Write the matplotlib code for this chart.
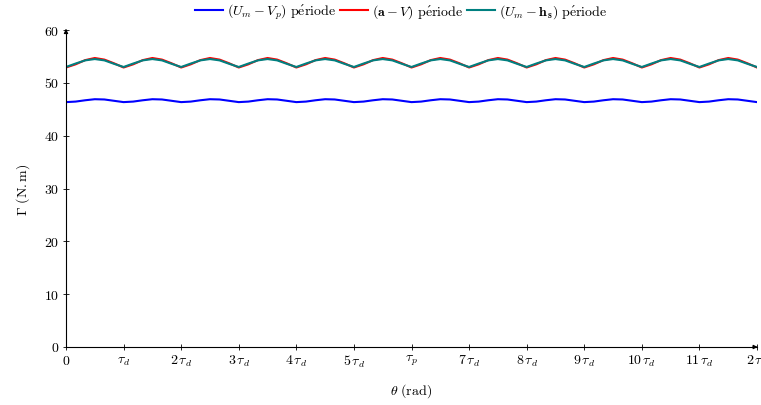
import numpy as np
import matplotlib
matplotlib.use("Agg")
import matplotlib.pyplot as plt

plt.rcParams['mathtext.fontset'] = 'cm'
plt.rcParams['font.family'] = ['DejaVu Serif']

# sample positions, in units of tau_d (0 .. 12 tau_d = 2 tau_p), step tau_d/6
theta = np.linspace(0, 12, 73)

blue = [46.35, 46.45, 46.7, 46.9, 46.85, 46.6,
        46.35, 46.45, 46.7, 46.9, 46.85, 46.6,
        46.35, 46.45, 46.7, 46.9, 46.85, 46.6,
        46.35, 46.45, 46.7, 46.9, 46.85, 46.6,
        46.35, 46.45, 46.7, 46.9, 46.85, 46.6,
        46.35, 46.45, 46.7, 46.9, 46.85, 46.6,
        46.35, 46.45, 46.7, 46.9, 46.85, 46.6,
        46.35, 46.45, 46.7, 46.9, 46.85, 46.6,
        46.35, 46.45, 46.7, 46.9, 46.85, 46.6,
        46.35, 46.45, 46.7, 46.9, 46.85, 46.6,
        46.35, 46.45, 46.7, 46.9, 46.85, 46.6,
        46.35, 46.45, 46.7, 46.9, 46.85, 46.6,
        46.35]

red = [52.9, 53.5, 54.3, 54.7, 54.4, 53.7,
       52.9, 53.5, 54.3, 54.7, 54.4, 53.7,
       52.9, 53.5, 54.3, 54.7, 54.4, 53.7,
       52.9, 53.5, 54.3, 54.7, 54.4, 53.7,
       52.9, 53.5, 54.3, 54.7, 54.4, 53.7,
       52.9, 53.5, 54.3, 54.7, 54.4, 53.7,
       52.9, 53.5, 54.3, 54.7, 54.4, 53.7,
       52.9, 53.5, 54.3, 54.7, 54.4, 53.7,
       52.9, 53.5, 54.3, 54.7, 54.4, 53.7,
       52.9, 53.5, 54.3, 54.7, 54.4, 53.7,
       52.9, 53.5, 54.3, 54.7, 54.4, 53.7,
       52.9, 53.5, 54.3, 54.7, 54.4, 53.7,
       52.9]

teal = [53.0, 53.65, 54.25, 54.5, 54.25, 53.6,
        53.0, 53.65, 54.25, 54.5, 54.25, 53.6,
        53.0, 53.65, 54.25, 54.5, 54.25, 53.6,
        53.0, 53.65, 54.25, 54.5, 54.25, 53.6,
        53.0, 53.65, 54.25, 54.5, 54.25, 53.6,
        53.0, 53.65, 54.25, 54.5, 54.25, 53.6,
        53.0, 53.65, 54.25, 54.5, 54.25, 53.6,
        53.0, 53.65, 54.25, 54.5, 54.25, 53.6,
        53.0, 53.65, 54.25, 54.5, 54.25, 53.6,
        53.0, 53.65, 54.25, 54.5, 54.25, 53.6,
        53.0, 53.65, 54.25, 54.5, 54.25, 53.6,
        53.0, 53.65, 54.25, 54.5, 54.25, 53.6,
        53.0]

series_labels = [r"$(U_m - V_p)\ \mathrm{p\acute{e}riode}$",
                 r"$(\mathbf{a} - V)\ \mathrm{p\acute{e}riode}$",
                 r"$(U_m - \mathbf{h}_\mathbf{s})\ \mathrm{p\acute{e}riode}$"]
series_colors = ["#0000ff", "#ff0000", "#008080"]

xticks = list(range(13))
xticklabels = [r"$0$", r"$\tau_d$", r"$2\,\tau_d$", r"$3\,\tau_d$", r"$4\,\tau_d$",
               r"$5\,\tau_d$", r"$\tau_p$", r"$7\,\tau_d$", r"$8\,\tau_d$",
               r"$9\,\tau_d$", r"$10\,\tau_d$", r"$11\,\tau_d$", r"$2\,\tau_p$"]
yticks = [0, 10, 20, 30, 40, 50, 60]
yticklabels = [r"$%d$" % v for v in yticks]

fig = plt.figure(figsize=(7.61, 4.05), dpi=100)
ax = fig.add_axes([66/761, 1-347/405, (757-66)/761, (347-30)/405])

for ys, lab, c in zip([blue, red, teal], series_labels, series_colors):
    ax.plot(theta, ys, color=c, lw=1.5, label=lab, solid_joinstyle='round')

ax.set_xlim(0, 12)
ax.set_ylim(0, 60)
ax.set_xticks(xticks)
ax.set_xticklabels(xticklabels, fontsize=10)
ax.set_yticks(yticks)
ax.set_yticklabels(yticklabels, fontsize=10)
ax.tick_params(direction='inout', length=4, width=0.6, pad=3)
ax.spines['top'].set_visible(False)
ax.spines['right'].set_visible(False)
for s in ['left', 'bottom']:
    ax.spines[s].set_linewidth(0.8)
# axis arrows
ax.annotate('', xy=(1.005, 0), xycoords='axes fraction', xytext=(0.99, 0),
            arrowprops=dict(arrowstyle='-|>', lw=0.8, color='black', mutation_scale=6),
            annotation_clip=False)
ax.annotate('', xy=(0, 1.012), xycoords='axes fraction', xytext=(0, 0.99),
            arrowprops=dict(arrowstyle='-|>', lw=0.8, color='black', mutation_scale=6),
            annotation_clip=False)

ax.set_xlabel(r"$\theta\ \mathrm{(rad)}$", fontsize=10)
ax.set_ylabel(r"$\Gamma\ \mathrm{(N{.}m)}$", fontsize=10)
ax.xaxis.set_label_coords(411/761, 1-391/405, transform=fig.transFigure)
ax.xaxis.label.set_va('center')
ax.yaxis.set_label_coords(23/761, 1-190/405, transform=fig.transFigure)
ax.yaxis.label.set_va('center')

fig.legend(loc='center', bbox_to_anchor=(401/761, 1-12/405), ncol=3, frameon=False,
           fontsize=10, handlelength=2.0, handletextpad=0.3, columnspacing=0.3,
           borderaxespad=0)

fig.savefig("out.png", dpi=100)
